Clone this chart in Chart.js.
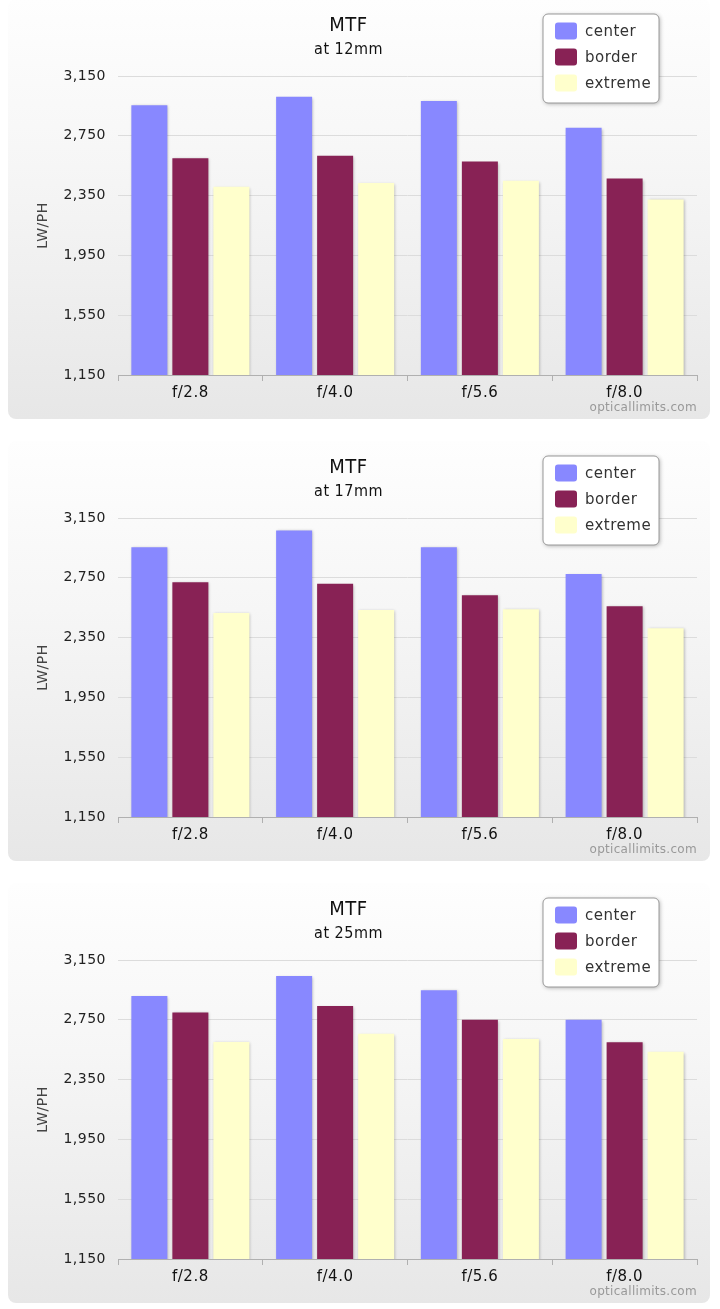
<!DOCTYPE html>
<html>
<head>
<meta charset="utf-8">
<script src="https://cdn.jsdelivr.net/npm/chart.js@4.4.1/dist/chart.umd.min.js"></script>
<style>
  body { margin: 0; background: #fff; width: 720px; height: 1309px; position: relative; overflow: hidden; }
  .panel { position: absolute; left: 8px; width: 702px; height: 420px; border-radius: 8px;
           background: linear-gradient(#fefefe 0%, #f6f6f6 40%, #e7e7e7 100%); }
  .box { position: absolute; left: 0; width: 720px; height: 420px; }
</style>
</head>
<body>
<div class="panel" style="top:-1px"></div>
<div class="panel" style="top:441px"></div>
<div class="panel" style="top:883px"></div>
<div class="box" style="top:-1px"><canvas id="mtf12"></canvas></div>
<div class="box" style="top:441px"><canvas id="mtf17"></canvas></div>
<div class="box" style="top:883px"><canvas id="mtf25"></canvas></div>
<script>
// MTF charts, one per focal length
const apertures = ['f/2.8', 'f/4.0', 'f/5.6', 'f/8.0'];
const seriesNames = ['center', 'border', 'extreme'];
const yTicks = [1150, 1550, 1950, 2350, 2750, 3150];

const center12 = [2955, 3012, 2982, 2804];
const border12 = [2599, 2616, 2578, 2464];
const extreme12 = [2409, 2435, 2449, 2324];

const center17 = [2954, 3067, 2954, 2776];
const border17 = [2721, 2710, 2634, 2560];
const extreme17 = [2514, 2534, 2540, 2412];

const center25 = [2910, 3043, 2948, 2750];
const border25 = [2799, 2843, 2750, 2599];
const extreme25 = [2601, 2656, 2621, 2536];

const colors = ['#8888ff', '#882255', '#ffffcc'];
const tickFont = '"DejaVu Sans", Verdana, sans-serif';
const titleFont = '"Liberation Sans Narrow", "DejaVu Sans Condensed", sans-serif';

// spacing a bit wider like the original renderer
const spacing = {
    id: 'spacing',
    beforeDraw(chart) { chart.ctx.letterSpacing = '0.5px'; }
};

// soft shadow under the bars
const barShadow = {
    id: 'barShadow',
    beforeDatasetsDraw(chart) {
        const ctx = chart.ctx;
        ctx.save();
        ctx.shadowColor = 'rgba(0,0,0,0.28)';
        ctx.shadowOffsetX = 1;
        ctx.shadowOffsetY = 1;
        ctx.shadowBlur = 3;
    },
    afterDatasetsDraw(chart) {
        chart.ctx.restore();
    }
};

// floating legend box in the top right corner
const boxLegend = {
    id: 'boxLegend',
    afterDraw(chart) {
        const ctx = chart.ctx;
        const x = 543, y = 15, w = 116, h = 89;
        ctx.save();
        ctx.shadowColor = 'rgba(0,0,0,0.3)';
        ctx.shadowBlur = 4;
        ctx.shadowOffsetX = 1;
        ctx.shadowOffsetY = 1;
        ctx.beginPath();
        ctx.roundRect(x, y, w, h, 5);
        ctx.fillStyle = '#fff';
        ctx.fill();
        ctx.shadowColor = 'transparent';
        ctx.strokeStyle = '#999';
        ctx.lineWidth = 1;
        ctx.stroke();
        ctx.letterSpacing = '0.5px';
        chart.data.datasets.forEach((ds, i) => {
            const cy = y + 17 + i * 26;
            ctx.fillStyle = ds.backgroundColor;
            ctx.beginPath();
            ctx.roundRect(x + 12, cy - 8.5, 22, 17, 3);
            ctx.fill();
            ctx.fillStyle = '#333';
            ctx.font = '15px ' + tickFont;
            ctx.textBaseline = 'middle';
            ctx.textAlign = 'left';
            ctx.fillText(ds.label, x + 42, cy + 1);
        });
        ctx.restore();
    }
};

// site credit bottom right
const credits = {
    id: 'credits',
    afterDraw(chart) {
        const ctx = chart.ctx;
        ctx.save();
        ctx.letterSpacing = '0.3px';
        ctx.font = '12px ' + tickFont;
        ctx.fillStyle = '#999';
        ctx.textAlign = 'right';
        ctx.textBaseline = 'middle';
        ctx.fillText('opticallimits.com', 697, 409);
        ctx.restore();
    }
};

function makeChart(id, focal, center, border, extreme) {
    const values = [center, border, extreme];
    const ctx = document.getElementById(id).getContext('2d');
    return new Chart(ctx, {
        type: 'bar',
        data: {
            labels: apertures,
            datasets: seriesNames.map((name, i) => ({
                label: name,
                data: values[i],
                backgroundColor: colors[i],
                borderWidth: 0,
                categoryPercentage: 0.85,
                barPercentage: 0.878
            }))
        },
        options: {
            responsive: true,
            maintainAspectRatio: false,
            animation: false,
            layout: { padding: { left: 0, right: 23, top: 0, bottom: 10 } },
            plugins: {
                legend: { display: false },
                tooltip: { enabled: false },
                title: {
                    display: true,
                    text: 'MTF',
                    color: '#111',
                    font: { family: titleFont, size: 20, weight: 'normal' },
                    padding: { top: 14.5, bottom: 0 }
                },
                subtitle: {
                    display: true,
                    text: 'at ' + focal,
                    color: '#111',
                    font: { family: titleFont, size: 16, weight: 'normal' },
                    padding: { top: 2.4, bottom: 16.9 }
                }
            },
            scales: {
                x: {
                    offset: true,
                    afterFit(scale) { scale.height = 34; },
                    grid: {
                        offset: true,
                        drawOnChartArea: false,
                        tickLength: 6,
                        color: '#b0b0b0'
                    },
                    border: { color: '#b0b0b0' },
                    ticks: {
                        padding: 3,
                        color: '#111',
                        font: { family: tickFont, size: 15 }
                    }
                },
                y: {
                    min: yTicks[0],
                    max: yTicks[yTicks.length - 1],
                    afterFit(scale) { scale.width = 118; },
                    afterBuildTicks(scale) { scale.ticks = yTicks.map(v => ({ value: v })); },
                    grid: { color: '#dcdcdc', drawTicks: false },
                    border: { display: false },
                    ticks: {
                        padding: 12,
                        color: '#222',
                        font: { family: tickFont, size: 14 },
                        callback: v => v.toLocaleString('en-US')
                    },
                    title: {
                        display: true,
                        text: 'LW/PH',
                        color: '#444',
                        font: { family: tickFont, size: 14 },
                        padding: { top: 35, bottom: 0 }
                    }
                }
            }
        },
        plugins: [spacing, barShadow, boxLegend, credits]
    });
}

window.addEventListener('load', () => {
    makeChart('mtf12', '12mm', center12, border12, extreme12);
    makeChart('mtf17', '17mm', center17, border17, extreme17);
    makeChart('mtf25', '25mm', center25, border25, extreme25);
});
</script>
</body>
</html>
